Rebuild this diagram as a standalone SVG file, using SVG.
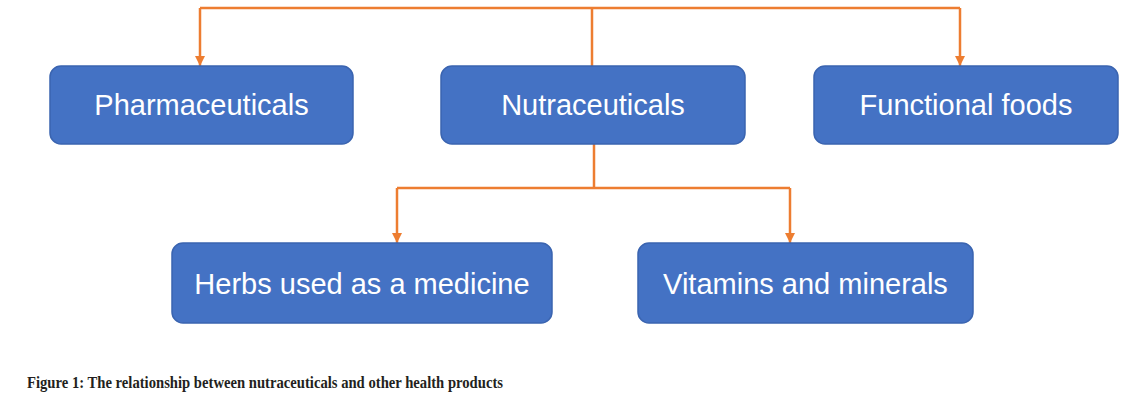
<svg xmlns="http://www.w3.org/2000/svg" width="1134" height="409" viewBox="0 0 1134 409">
<style>
.box{fill:#4472C4;stroke:#3A64B0;stroke-width:1.5}
.lbl{font-family:"Liberation Sans",Arial,sans-serif;font-size:29px;fill:#FFFFFF;text-anchor:middle}
.con{fill:none;stroke:#ED7D31;stroke-width:2.5}
.cap{font-family:"Liberation Serif","Times New Roman",serif;font-weight:bold;font-size:17px;fill:#231F20}
</style>
<defs>
<marker id="ah" viewBox="0 0 10 10" refX="10" refY="5" markerWidth="4" markerHeight="4" orient="auto" markerUnits="strokeWidth">
<path d="M0,0 L10,5 L0,10 z" fill="#ED7D31"/>
</marker>
</defs>
<rect width="1134" height="409" fill="#FFFFFF"/>
<g id="connectors">
<path class="con" d="M592,66 V8"/>
<path class="con" d="M200,8 H960"/>
<path class="con" d="M200,8 V66" marker-end="url(#ah)"/>
<path class="con" d="M960,8 V66" marker-end="url(#ah)"/>
<path class="con" d="M594,144 V188"/>
<path class="con" d="M397,188 H790"/>
<path class="con" d="M397,188 V243" marker-end="url(#ah)"/>
<path class="con" d="M790,188 V243" marker-end="url(#ah)"/>
</g>
<g id="pharmaceuticals">
<rect class="box" x="50" y="66" width="303" height="78" rx="11"/>
<text class="lbl" x="201.5" y="115">Pharmaceuticals</text>
</g>
<g id="nutraceuticals">
<rect class="box" x="441" y="66" width="304" height="78" rx="11"/>
<text class="lbl" x="593" y="115">Nutraceuticals</text>
</g>
<g id="functional-foods">
<rect class="box" x="814" y="66" width="304" height="78" rx="11"/>
<text class="lbl" x="966" y="115">Functional foods</text>
</g>
<g id="herbs">
<rect class="box" x="172" y="243" width="380" height="80" rx="11"/>
<text class="lbl" x="362" y="294">Herbs used as a medicine</text>
</g>
<g id="vitamins">
<rect class="box" x="638" y="243" width="335" height="80" rx="11"/>
<text class="lbl" x="805.5" y="294">Vitamins and minerals</text>
</g>
<text class="cap" x="27" y="388" textLength="476" lengthAdjust="spacingAndGlyphs">Figure 1: The relationship between nutraceuticals and other health products</text>
</svg>
